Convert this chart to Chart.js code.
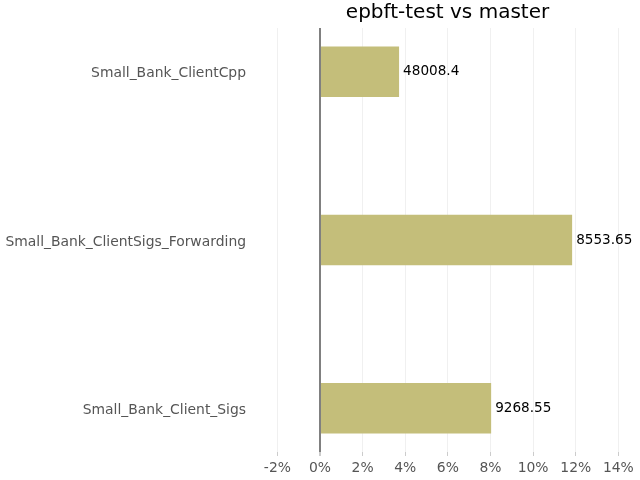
<!DOCTYPE html>
<html>
<head>
<meta charset="utf-8">
<script src="https://cdn.jsdelivr.net/npm/chart.js@4/dist/chart.umd.min.js"></script>
<style>
html,body{margin:0;padding:0;background:#fff;}
#wrap{width:640px;height:480px;}
</style>
</head>
<body>
<div id="wrap"><canvas id="c" width="640" height="480"></canvas></div>
<script>
const categories = ['Small_Bank_ClientCpp', 'Small_Bank_ClientSigs_Forwarding', 'Small_Bank_Client_Sigs'];
const changePct = [3.71, 11.83, 8.03];
const valueLabels = ['48008.4', '8553.65', '9268.55'];
const titleText = 'epbft-test vs master';

const FONT = "'DejaVu Sans', sans-serif";

const valueLabelPlugin = {
  id: 'valueLabels',
  afterDatasetsDraw(chart) {
    const ctx = chart.ctx;
    const meta = chart.getDatasetMeta(0);
    ctx.save();
    ctx.font = "13.6px " + FONT;
    ctx.fillStyle = '#000';
    ctx.textAlign = 'left';
    ctx.textBaseline = 'middle';
    meta.data.forEach((bar, i) => {
      ctx.fillText(valueLabels[i], bar.x + 4, bar.y);
    });
    ctx.restore();
  }
};

const areaTitlePlugin = {
  id: 'areaTitle',
  afterDraw(chart) {
    const ctx = chart.ctx;
    const a = chart.chartArea;
    ctx.save();
    ctx.font = "20px " + FONT;
    ctx.fillStyle = '#000';
    ctx.textAlign = 'center';
    ctx.textBaseline = 'middle';
    ctx.fillText(titleText, (a.left + a.right) / 2, 13);
    ctx.restore();
  }
};

new Chart(document.getElementById('c'), {
  type: 'bar',
  data: {
    datasets: [{
      data: changePct.map((v, i) => ({ x: v, y: i })),
      backgroundColor: '#c4be7a',
      borderWidth: 0,
      categoryPercentage: 1,
      barPercentage: 0.3
    }]
  },
  plugins: [valueLabelPlugin, areaTitlePlugin],
  options: {
    indexAxis: 'y',
    responsive: false,
    animation: false,
    layout: { padding: { left: 4, right: 5, top: 28, bottom: 4 } },
    plugins: {
      legend: { display: false },
      tooltip: { enabled: false },
      title: { display: false }
    },
    scales: {
      x: {
        type: 'linear',
        min: -2.816,
        max: 14.78,
        border: { display: false },
        grid: {
          color: ctx => ctx.tick && ctx.tick.value === 0 ? '#808080' : 'rgba(0,0,0,0.06)',
          lineWidth: ctx => ctx.tick && ctx.tick.value === 0 ? 2 : 1,
          tickColor: 'rgba(0,0,0,0.2)',
          tickLength: 4
        },
        afterFit: axis => { axis.height = 24; },
        ticks: {
          stepSize: 2,
          includeBounds: false,
          color: '#555',
          font: { family: FONT, size: 13.9 },
          padding: 4,
          maxRotation: 0,
          callback: v => v + '%'
        }
      },
      y: {
        type: 'linear',
        reverse: true,
        offset: false,
        min: -0.26,
        max: 2.26,
        border: { display: false },
        grid: { display: false, drawTicks: false, offset: false },
        afterBuildTicks: axis => { axis.ticks = categories.map((c, i) => ({ value: i })); },
        afterFit: axis => { axis.width = 256; },
        ticks: {
          color: '#555',
          font: { family: FONT, size: 13.9 },
          padding: 14,
          labelOffset: 2,
          callback: v => categories[v]
        }
      }
    }
  }
});
</script>
</body>
</html>
